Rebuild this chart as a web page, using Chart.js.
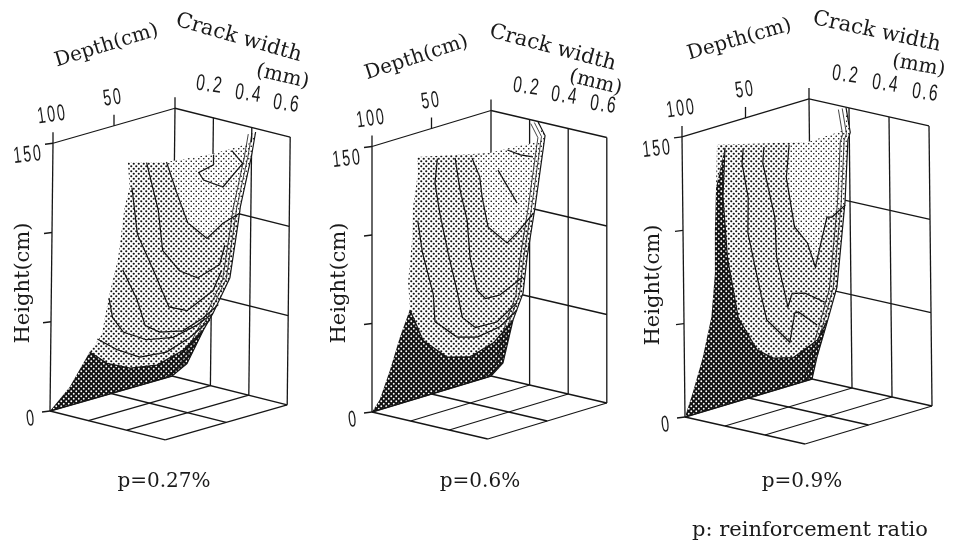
<!DOCTYPE html>
<html lang="en">
<head>
<meta charset="UTF-8">
<title>Crack width surfaces</title>
<script src="https://cdn.jsdelivr.net/npm/chart.js"></script>
<style>
  html, body { margin: 0; background: #fff; }
  #wrap { position: relative; width: 955px; height: 541px; overflow: hidden; }
  canvas { position: absolute; left: 0; top: 0; }
  .t { position: absolute; white-space: nowrap; color: #1a1a1a; font-family: "DejaVu Serif", serif; line-height: 1; }
  .n { font-family: "Liberation Sans", sans-serif; font-size: 23px; letter-spacing: 3px; }
</style>
</head>
<body>
<div id="wrap"><canvas id="c" width="955" height="541"></canvas></div>
<script>
// axis values
const depthTicks = [0, 50, 100];
const widthTicks = [0, 0.2, 0.4, 0.6];
const heightTicks = [0, 50, 100, 150];
const depthLabels = [50, 100];
const widthLabels = ['0.2', '0.4', '0.6'];
const heightLabels = [0, 150];
const captions = ['p=0.27%', 'p=0.6%', 'p=0.9%'];

// surface outline
// left edge at depth 100: [width, height]
const left27 = [[0,0],[.10,16],[.205,39],[.265,50],[.295,70],[.345,95],[.375,124],[.40,136],[.39,150]];
const left06 = [[0,0],[.04,8],[.093,26],[.145,46],[.197,63],[.187,78],[.207,102],[.212,121],[.238,141],[.233,150]];
const left09 = [[0,0],[.04,14],[.092,34],[.138,57],[.158,81],[.16,104],[.168,127],[.175,150]];
// top edge at height 150: [depth, width]
const top27 = [[85,.50],[56,.55],[39,.55],[24,.55]];
const top06 = [[67,.41],[52,.42],[35.6,.44],[27,.44]];
const top09 = [[65,.41],[33.7,.40]];
// right edge at depth 0: [width, height]
const right27 = [[.42,148],[.40,134],[.345,104],[.335,95],[.295,63],[.21,41],[.16,30],[.077,9],[0,0]];
const right06 = [[.243,150],[.28,143],[.228,101],[.187,72],[.166,51],[.114,34.5],[.062,9],[0,0]];
const right09 = [[.185,150],[.205,137],[.193,133],[.175,99],[.13,52.4],[.078,31.9],[.026,12.4],[0,0]];

// contour levels (crack width, mm) and their [depth, height] points
const levels27 = [.18, .21, .25, .30, .34, .38, .42, .50];
const contours27 = [
  [[96,37],[82,28],[63,21.6],[41,19],[20,23],[3.5,31]],
  [[95,45],[79,36],[60,28],[38,26.5],[19,31],[2.5,37.5]],
  [[92,68],[89,57],[80,47],[61,39],[39,36],[20,39],[6.5,43]],
  [[89,85],[77,66],[70,50],[58,44],[39,41],[22.5,45],[10,50]],
  [[88.5,132],[83.6,105],[70,82],[57,59],[42,54],[21,61],[14,71]],
  [[83,146],[73,117.5],[69,94],[55,80],[40,73],[22,77],[18,87]],
  [[73,145.5],[64,126],[55,108],[39,96],[26,102],[12,105]],
  [[47,146.5],[47,141],[59,139],[55,134],[39,127],[23,137],[32,146]]
];
const levels06 = [.16, .20, .24, .28, .33, .40, .43];
const contours06 = [
  [[94,60.5],[83,41],[63,27.6],[43.6,23.7],[24,27.7],[7.5,37]],
  [[94,112],[90,93],[81,68],[79.5,52],[61,39.5],[44,36],[25,38],[10.6,44.5]],
  [[84,146],[86,132.7],[82,115],[75,91],[67.5,68],[63,52],[52,44],[34,43.5],[17,51]],
  [[75.6,145.7],[71.4,126.7],[65.5,108.6],[63,87],[57,67],[50,61],[38,60.6],[18.5,66.8]],
  [[69.5,145.7],[63,133.7],[61,122],[56,104],[40,91.7],[31.7,95.6],[18,104]],
  [[59,138.5],[43,116.7]],
  [[56,150],[45,145],[34.5,141.7]]
];
const levels09 = [.10, .14, .18, .24];
const contours09 = [
  [[82,143],[84,117],[81,84],[73,50],[58.6,30],[46,23],[30,20],[11,25.6],[3,34.6]],
  [[74,142],[75,134],[70.5,115],[71,96],[63.5,69],[57,46.6],[39,31],[35,45.8],[32,45.8],[23,39.6],[17.5,35.8]],
  [[64,141.6],[65,133],[56,102.5],[55,81],[46.5,52.4],[43,59],[33,57],[17.4,49]],
  [[53.6,142],[56,125],[50,97.4],[40,86.8],[34,72.7],[24.5,97.5],[20.5,96.7],[10,101]]
];
// extra lines that run beside the right edge
const rimDepths = [3, 6];

// projection of each box onto the sheet, plus where its text sits
const panels = [
  { ox: 172, oy: 376, dx: -1.22, dy: .35, wx: 192, wy: 48, hx: .02, hy: -1.785,
    left: left27, top: top27, right: right27, levels: levels27, contours: contours27, light: 6,
    depth: [-69, -64, -17], crack: [64, -71, 16], mm: [108, -33, 13], height: [22, 283], cap: [164, 480] },
  { ox: 491, oy: 376, dx: -1.19, dy: .36, wx: 193, wy: 45, hx: 0, hy: -1.77,
    left: left06, top: top06, right: right06, levels: levels06, contours: contours06, light: 4,
    depth: [-75, -55, -18], crack: [62, -64, 15], mm: [105, -30, 14], height: [338, 283], cap: [480, 480] },
  { ox: 812, oy: 379, dx: -1.27, dy: .38, wx: 200, wy: 45, hx: -.02, hy: -1.867,
    left: left09, top: top09, right: right09, levels: levels09, contours: contours09, light: 3,
    depth: [-70, -61, -16], crack: [68, -68, 12], mm: [110, -35, 10], height: [652, 285], cap: [802, 480] }
];

function project(p, d, w, h) {
  return { x: p.ox + p.dx * d + p.wx * w + p.hx * h, y: p.oy + p.dy * d + p.wy * w + p.hy * h };
}

// halftone screens of the scan
function screen(fg, bg, r) {
  const tile = document.createElement('canvas');
  tile.width = tile.height = 5;
  const g = tile.getContext('2d');
  g.fillStyle = bg;
  g.fillRect(0, 0, 5, 5);
  g.fillStyle = fg;
  [[1.25, 1.25], [3.75, 3.75]].forEach(c => {
    g.beginPath();
    g.arc(c[0], c[1], r, 0, Math.PI * 2);
    g.fill();
  });
  return g.createPattern(tile, 'repeat');
}
const ctx = document.getElementById('c').getContext('2d');
const lightDots = screen('#111', '#fff', .82);
const midDots = screen('#111', '#fff', 1.08);
const darkDots = screen('#fff', '#111', .95);

const sets = [];
function line(points, width) {
  sets.push({ data: points, showLine: true, pointRadius: 0, borderColor: '#161616', borderWidth: width || 1.3, fill: false, tension: 0 });
}
function area(points, pattern) {
  sets.push({ data: points.concat([points[0]]), showLine: true, pointRadius: 0, borderWidth: 0, borderColor: 'rgba(0,0,0,0)', backgroundColor: pattern, fill: 'shape', tension: 0 });
}

panels.forEach(p => {
  const at = (d, w, h) => project(p, d, w, h);
  const wMax = widthTicks[widthTicks.length - 1], dMax = depthTicks[depthTicks.length - 1], hMax = heightTicks[heightTicks.length - 1];

  // floor
  widthTicks.forEach(w => line([at(0, w, 0), at(dMax, w, 0)]));
  depthTicks.forEach(d => line([at(d, 0, 0), at(d, wMax, 0)]));
  // back wall
  widthTicks.forEach(w => line([at(0, w, 0), at(0, w, hMax)]));
  heightTicks.slice(1).forEach(h => line([at(0, 0, h), at(0, wMax, h)]));
  // side wall frame and ticks
  line([at(dMax, 0, 0), at(dMax, 0, hMax)]);
  line([at(0, 0, hMax), at(dMax, 0, hMax)]);
  heightTicks.forEach(h => { const a = at(dMax, 0, h); line([a, { x: a.x - 8, y: a.y + 1 }]); });
  depthTicks.forEach(d => { const a = at(d, 0, hMax); line([a, { x: a.x, y: a.y - 11 }]); });

  // surface
  const edgeL = p.left.map(a => at(100, a[0], a[1]));
  const edgeT = p.top.map(a => at(a[0], a[1], 150));
  const edgeR = p.right.map(a => at(0, a[0], a[1]));
  area(edgeL.concat(edgeT, edgeR), midDots);

  const cpts = p.contours.map((c, i) => c.map(a => at(a[0], p.levels[i], a[1])));
  // dark band under the first contour
  const c0 = p.contours[0];
  const low = p.left.filter(a => a[1] <= c0[0][1] + 3).map(a => at(100, a[0], a[1]));
  const lowR = p.right.filter(a => a[1] <= c0[c0.length - 1][1]).map(a => at(0, a[0], a[1]));
  area(low.concat(cpts[0], lowR), darkDots);
  // pale area over the chosen contour
  const cl = p.contours[p.light];
  const upR = p.right.filter(a => a[1] >= cl[cl.length - 1][1] - 5).map(a => at(0, a[0], a[1])).reverse();
  area(cpts[p.light].concat(upR, edgeT.slice().reverse()), lightDots);

  cpts.forEach(c => line(c, 1.2));
  line(edgeR, 1.2);
  rimDepths.forEach(d => line(p.right.map(a => at(d, a[0], a[1])), .8));
  line([at(0, 0, 0), at(dMax, 0, 0)], 1.6);
});

const chart = new Chart(ctx, {
  type: 'scatter',
  data: { datasets: sets.reverse() },
  options: {
    responsive: false,
    animation: false,
    layout: { padding: 0 },
    plugins: { legend: { display: false }, tooltip: { enabled: false } },
    scales: {
      x: { type: 'linear', min: 0, max: 955, display: false },
      y: { type: 'linear', min: 0, max: 541, reverse: true, display: false }
    }
  }
});

// text, placed through the chart's scales
function label(text, x, y, size, rot, cls, sx) {
  const s = document.createElement('span');
  s.className = 't ' + (cls || '');
  s.textContent = text;
  if (size) s.style.fontSize = size + 'px';
  s.style.left = chart.scales.x.getPixelForValue(x) + 'px';
  s.style.top = chart.scales.y.getPixelForValue(y) + 'px';
  s.style.transform = 'translate(-50%,-50%) rotate(' + rot + 'deg)' + (sx ? ' scaleX(' + sx + ')' : '');
  document.getElementById('wrap').appendChild(s);
}
panels.forEach((p, i) => {
  const corner = project(p, 0, 0, 150);
  label('Depth(cm)', corner.x + p.depth[0], corner.y + p.depth[1], 20, p.depth[2]);
  label('Crack width', corner.x + p.crack[0], corner.y + p.crack[1], 21, p.crack[2]);
  label('(mm)', corner.x + p.mm[0], corner.y + p.mm[1], 20, p.mm[2]);
  label('Height(cm)', p.height[0], p.height[1], 21, -90);
  label(captions[i], p.cap[0], p.cap[1], 20, 0);
  depthLabels.forEach(d => { const a = project(p, d, 0, 150); label(String(d), a.x - 1, a.y - 29, 0, -8, 'n', .62); });
  widthLabels.forEach(w => { const a = project(p, 0, +w, 150); label(w, a.x - 3, a.y - 34, 0, 8, 'n', .68); });
  heightLabels.forEach(h => {
    const a = project(p, 100, 0, h);
    label(String(h), a.x - (h ? 25 : 19), a.y + (h ? 11 : 7), 0, -6, 'n', .62);
  });
});
label('p: reinforcement ratio', 810, 529, 21, 0);
</script>
</body>
</html>
